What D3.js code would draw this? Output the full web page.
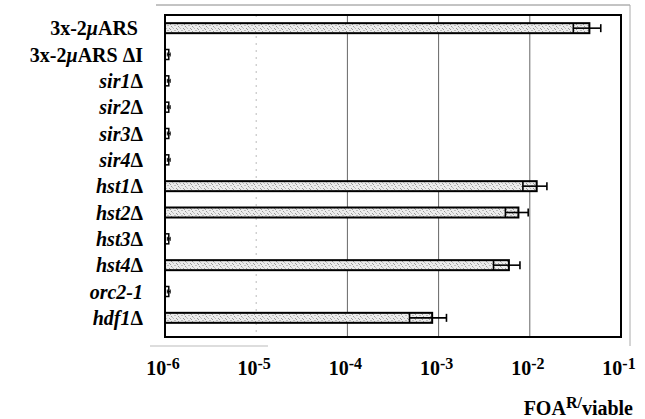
<!DOCTYPE html>
<html><head><meta charset="utf-8">
<script src="https://cdn.jsdelivr.net/npm/d3@7"></script>
</head>
<body style="margin:0">
<svg id="chart" width="645" height="419"></svg>
<script>
// ---- data ----
const categories = ["3x-2μARS","3x-2μARS ΔI","sir1Δ","sir2Δ","sir3Δ","sir4Δ","hst1Δ","hst2Δ","hst3Δ","hst4Δ","orc2-1","hdf1Δ"];
const values = [0.045, 1.1e-6, 1.1e-6, 1.1e-6, 1.1e-6, 1.1e-6, 0.0119, 0.0075, 1.1e-6, 0.0059, 1.1e-6, 0.00085];
const errors = [0.015, 0.04e-6, 0.04e-6, 0.04e-6, 0.04e-6, 0.04e-6, 0.0035, 0.0021, 0.04e-6, 0.0019, 0.04e-6, 0.00037];
const tickValues = [1e-6, 1e-5, 1e-4, 1e-3, 1e-2, 1e-1];
const tickExponents = ["-6","-5","-4","-3","-2","-1"];
const gridValues = [1e-5, 1e-4, 1e-3, 1e-2];

const svg = d3.select("#chart");
const L = 165, R = 621, T = 15, B = 337;

const x = d3.scaleLog().domain([1e-6, 1e-1]).range([L, R]);
const y = d3.scaleBand().domain(categories).range([T, 331]).paddingInner(0.62).paddingOuter(0.31);

// stipple pattern
const defs = svg.append("defs");
const pat = defs.append("pattern").attr("id","stip").attr("patternUnits","userSpaceOnUse")
  .attr("width",7).attr("height",5);
pat.append("rect").attr("width",7).attr("height",5).attr("fill","#ececec");
[[0,0],[3,1],[5,3],[1,3],[6,0],[2,4],[4,2]].forEach(([a,b],i)=>{
  pat.append("rect").attr("x",a).attr("y",b).attr("width",1).attr("height",1)
    .attr("fill", i%2 ? "#9a9a9a" : "#bdbdbd");
});

// outer (scanned) chart-area border
svg.append("line").attr("x1",156).attr("x2",630).attr("y1",5).attr("y2",5).attr("stroke","#888").attr("stroke-width",1);
svg.append("line").attr("x1",630).attr("x2",630).attr("y1",5).attr("y2",346).attr("stroke","#aaa").attr("stroke-width",1);
svg.append("line").attr("x1",150).attr("x2",268).attr("y1",346).attr("y2",346).attr("stroke","#bbb").attr("stroke-width",1);

// gridlines
svg.append("g").selectAll("line").data(gridValues).join("line")
  .attr("x1", d=>x(d)).attr("x2", d=>x(d)).attr("y1", T).attr("y2", B)
  .attr("stroke", d=> d===1e-5 ? "#bbb" : "#666")
  .attr("stroke-width", 1)
  .attr("stroke-dasharray", d=> d===1e-5 ? "2,5" : null);

// bars
const rows = categories.map((c,i)=>({c, v: values[i], e: errors[i]}));
svg.append("g").selectAll("rect").data(rows).join("rect")
  .attr("x", x(1e-6)).attr("y", d=>y(d.c))
  .attr("width", d=>x(d.v)-x(1e-6)).attr("height", y.bandwidth())
  .attr("fill", d=> d.v < 1e-5 ? "#fff" : "url(#stip)")
  .attr("stroke","#000").attr("stroke-width", d=> d.v < 1e-5 ? 1.5 : 2);

// error bars
const eg = svg.append("g").attr("stroke","#000").attr("fill","none");
rows.forEach(d=>{
  const cy = y(d.c) + y.bandwidth()/2;
  const lo = x(d.v - d.e), hi = x(d.v + d.e);
  const small = d.v < 1e-5;
  const h = small ? 2 : y.bandwidth()/2;
  const sw = small ? 1 : 1.6;
  eg.append("line").attr("stroke-width",sw).attr("x1",lo).attr("x2",hi).attr("y1",cy).attr("y2",cy);
  eg.append("line").attr("stroke-width",sw).attr("x1",lo).attr("x2",lo).attr("y1",cy-h).attr("y2",cy+h);
  eg.append("line").attr("stroke-width",sw).attr("x1",hi).attr("x2",hi).attr("y1",cy-h+(small?0:1)).attr("y2",cy+h-(small?0:1));
});

// frame
svg.append("rect").attr("x",L).attr("y",T).attr("width",R-L).attr("height",B-T)
  .attr("fill","none").attr("stroke","#000").attr("stroke-width",2);

function styleText(sel, size){
  return sel.style("font-family","'Liberation Serif'").style("font-weight","bold").style("font-size", size+"px");
}

// category labels
const labelG = svg.append("g");
categories.forEach(c=>{
  const t = styleText(labelG.append("text"), 20)
    .attr("x", c==="3x-2μARS" ? 138 : 143)
    .attr("y", y(c) + y.bandwidth()/2 + 7)
    .attr("text-anchor","end");
  if (c.startsWith("3x-2μARS")) {
    t.append("tspan").text("3x-2");
    t.append("tspan").style("font-style","italic").text("μ");
    t.append("tspan").text(c.slice(5));
  } else if (c.endsWith("Δ")) {
    t.append("tspan").style("font-style","italic").text(c.slice(0,-1));
    t.append("tspan").text("Δ");
  } else {
    t.append("tspan").style("font-style","italic").text(c);
  }
});

// x tick labels
const tickG = svg.append("g");
tickValues.forEach((v,i)=>{
  const t = styleText(tickG.append("text"), 20)
    .attr("x", x(v) - 2).attr("y", B + 38)
    .attr("text-anchor","middle");
  t.append("tspan").text("10");
  t.append("tspan").attr("dy",-6).style("font-size","16px").text(tickExponents[i]);
});

// axis title
const title = styleText(svg.append("text"), 20).attr("x",633).attr("y",415)
  .attr("text-anchor","end");
title.append("tspan").text("FOA");
title.append("tspan").attr("dy",-7).style("font-size","16px").text("R/");
title.append("tspan").attr("dy",7).text("viable");
</script>
</body></html>
